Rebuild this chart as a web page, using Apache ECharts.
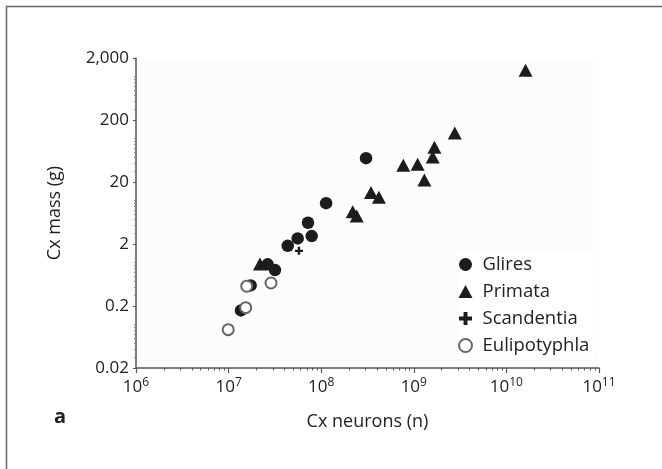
<!DOCTYPE html>
<html>
<head>
<meta charset="utf-8">
<script src="https://cdn.jsdelivr.net/npm/echarts@6/dist/echarts.min.js"></script>
<style>
html,body{margin:0;padding:0;background:#fff;}
#c{width:662px;height:469px;}
</style>
</head>
<body>
<div id="c"></div>
<script>
// ---- data (Cx neurons, Cx mass in g) ----
var glires = [
  [1.36e7, 0.17], [1.73e7, 0.43], [2.64e7, 0.94], [3.17e7, 0.76],
  [4.35e7, 1.87], [5.57e7, 2.46], [7.9e7, 2.68], [7.2e7, 4.4],
  [1.13e8, 9.1], [3.05e8, 48.5]
];
var primata = [
  [2.18e7, 0.95], [2.19e8, 6.6], [2.42e8, 5.65], [3.45e8, 13.5],
  [4.2e8, 11.4], [7.7e8, 37.4], [1.1e9, 38.8], [1.3e9, 21.6],
  [1.6e9, 50.4], [1.67e9, 73], [2.77e9, 123], [1.61e10, 1270]
];
var scandentia = [[5.75e7, 1.55]];
var eulipotyphla = [[9.9e6, 0.083], [1.53e7, 0.188], [1.57e7, 0.417], [2.87e7, 0.47]];

var xTicks = [1e6, 1e7, 1e8, 1e9, 1e10, 1e11];
var xExponents = ['6', '7', '8', '9', '10', '11'];
var yTicks = [0.02, 0.2, 2, 20, 200, 2000];
var yTickLabels = ['0.02', '0.2', '2', '20', '200', '2,000'];

// minor tick positions (log-axis decoration)
var xMinor = [];
for (var e = 6; e < 11; e++) for (var k = 2; k <= 9; k++) xMinor.push(k * Math.pow(10, e));
var yMinor = [];
for (var e2 = -2; e2 < 4; e2++) for (var k2 = 1; k2 <= 9; k2++) {
  var v = k2 * Math.pow(10, e2);
  if (v > 0.02 && v < 2000 && k2 !== 2) yMinor.push(v);
}

function nearestIndex(arr, v) {
  var best = 0, bd = Infinity;
  for (var i = 0; i < arr.length; i++) {
    var d = Math.abs(Math.log10(arr[i]) - Math.log10(v));
    if (d < bd) { bd = d; best = i; }
  }
  return best;
}

var FONT = '"Open Sans", "Noto Sans", sans-serif';
var TXT = '#222';
var AX = '#555';

var chart = echarts.init(document.getElementById('c'), null, {renderer: 'canvas'});
chart.setOption({
  backgroundColor: '#fff',
  animation: false,
  textStyle: {fontFamily: FONT},
  grid: {left: 136, top: 58, width: 463, height: 310, show: true, backgroundColor: '#fcfcfc', borderWidth: 0},
  xAxis: [{
    type: 'log', logBase: 10, min: 1e6, max: 1e11, position: 'bottom',
    name: 'Cx neurons (n)', nameLocation: 'middle', nameGap: 45,
    nameTextStyle: {fontSize: 18, color: TXT, fontFamily: FONT},
    axisLine: {show: true, lineStyle: {color: AX, width: 1.5}},
    axisTick: {show: true, customValues: xTicks, length: 5, inside: false, lineStyle: {color: AX, width: 1.2}},
    axisLabel: {
      customValues: xTicks, margin: 9, color: TXT, fontFamily: FONT,
      formatter: function (val) {
        return '{b|10}{s|' + xExponents[nearestIndex(xTicks, val)] + '}';
      },
      rich: {
        b: {fontSize: 17, color: TXT, fontFamily: FONT},
        s: {fontSize: 12, color: TXT, fontFamily: FONT, padding: [0, 0, 9, 0]}
      }
    },
    splitLine: {show: false}, minorTick: {show: false}, minorSplitLine: {show: false}
  }, {
    type: 'log', logBase: 10, min: 1e6, max: 1e11, position: 'bottom', gridIndex: 0,
    axisLine: {show: false},
    axisTick: {show: true, customValues: xMinor, length: 2.5, inside: false, lineStyle: {color: AX, width: 1}},
    axisLabel: {show: false}, splitLine: {show: false}
  }],
  yAxis: [{
    type: 'log', logBase: 10, min: 0.02, max: 2000, position: 'left',
    name: 'Cx mass (g)', nameLocation: 'middle', nameGap: 72, nameRotate: 90,
    nameTextStyle: {fontSize: 18, color: TXT, fontFamily: FONT},
    axisLine: {show: true, lineStyle: {color: AX, width: 1.5}},
    axisTick: {show: true, customValues: yTicks, length: 3, inside: false, lineStyle: {color: AX, width: 1}},
    axisLabel: {
      customValues: yTicks, margin: 7, fontSize: 17, color: TXT, fontFamily: FONT,
      formatter: function (val) { return yTickLabels[nearestIndex(yTicks, val)]; }
    },
    splitLine: {show: false}
  }, {
    type: 'log', logBase: 10, min: 0.02, max: 2000, position: 'left', gridIndex: 0,
    axisLine: {show: false},
    axisTick: {show: true, customValues: yMinor, length: 2, inside: false, lineStyle: {color: '#888', width: 1}},
    axisLabel: {show: false}, splitLine: {show: false}
  }],
  legend: {
    orient: 'vertical', left: 458, top: 251, itemWidth: 14, itemHeight: 13, itemGap: 8,
    backgroundColor: '#fff', padding: [4, 6, 4, 0],
    textStyle: {fontSize: 18.5, color: TXT, fontFamily: FONT, lineHeight: 19, padding: [0, 0, 0, 5]},
    data: ['Glires', 'Primata', 'Scandentia', 'Eulipotyphla']
  },
  series: [{
    name: 'Glires', type: 'scatter', data: glires, symbol: 'circle', symbolSize: 12.5,
    itemStyle: {color: '#1c1c1c', opacity: 1}, clip: false
  }, {
    name: 'Primata', type: 'scatter', data: primata, symbol: 'triangle', symbolSize: [14, 13],
    itemStyle: {color: '#1c1c1c', opacity: 1}, clip: false
  }, {
    name: 'Scandentia', type: 'scatter', data: scandentia,
    symbol: 'path://M3.5,0H6.5V3.5H10V6.5H6.5V10H3.5V6.5H0V3.5H3.5Z', symbolSize: 8,
    itemStyle: {color: '#1c1c1c', opacity: 1}, clip: false
  }, {
    name: 'Eulipotyphla', type: 'scatter', data: eulipotyphla, symbol: 'emptyCircle', symbolSize: 11,
    itemStyle: {color: '#666', borderColor: '#666', borderWidth: 1.6, opacity: 1}, clip: false
  }],
  graphic: [{
    type: 'polyline', silent: true,
    shape: {points: [[6.5, 469], [6.5, 6.5], [662, 6.5]]},
    style: {stroke: '#666', lineWidth: 1.5, fill: null}
  }, {
    type: 'text', left: 54, top: 407,
    style: {text: 'a', font: 'bold 20px ' + FONT, fill: TXT}
  }]
});
</script>
</body>
</html>
